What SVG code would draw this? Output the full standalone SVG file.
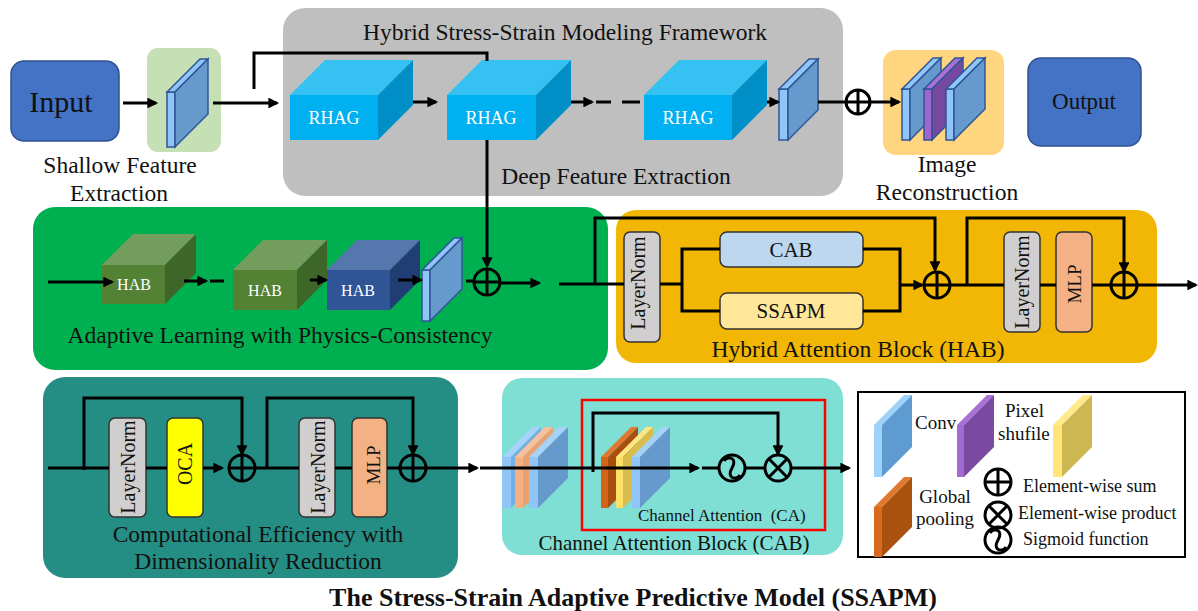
<svg xmlns="http://www.w3.org/2000/svg" width="1198" height="611" viewBox="0 0 1198 611">
<defs>
<marker id="ah" viewBox="0 0 10 10" refX="8" refY="5" markerWidth="4" markerHeight="3.6" orient="auto" markerUnits="strokeWidth"><path d="M0,0 L10,5 L0,10 z" fill="#000"/></marker>
<style>
text{font-family:"Liberation Serif","Times New Roman",serif;fill:#111}
.c{stroke:#000;stroke-width:3;fill:none}
.a{stroke:#000;stroke-width:3;fill:none;marker-end:url(#ah)}
.sym{stroke:#000;stroke-width:3;fill:none}
.sl{stroke:#2F5597;stroke-width:1.5}
.sf{fill:#8FC6F7}
.ss{fill:#6699CC}
.rf{fill:#00B0F0}.rt{fill:#35C2F3}.rs{fill:#008FC6}
.gf{fill:#548235}.gt{fill:#749C5C}.gs{fill:#3F6629}
.bf{fill:#2F5597}.bt{fill:#5676AE}.bs{fill:#213E74}
.box{stroke:#333;stroke-width:1.5}
.lbl{font-size:23.5px;text-anchor:middle}
.w{fill:#fff}
</style>
</defs>
<rect width="1198" height="611" fill="#fff"/>

<g id="panels">
<rect x="283" y="8" width="560" height="188" rx="22" fill="#BFBFBF"/>
<rect x="147" y="48" width="74" height="104" rx="11" fill="#C5E0B4"/>
<rect x="883" y="50" width="121" height="105" rx="13" fill="#FFD580"/>
<rect x="33" y="207" width="575" height="163" rx="22" fill="#00B050"/>
<rect x="616" y="210" width="541" height="153" rx="20" fill="#F2B705"/>
<rect x="43" y="377" width="415" height="201" rx="22" fill="#258E84"/>
<rect x="502" y="378" width="341" height="177" rx="20" fill="#7FDFD5"/>
<rect x="858" y="392" width="327" height="165" fill="#fff" stroke="#000" stroke-width="2"/>
</g>

<g id="input">
<rect x="11" y="61" width="108" height="80" rx="13" fill="#4472C4" stroke="#2F528F" stroke-width="1.5"/>
<text x="61" y="112" font-size="30" text-anchor="middle">Input</text>
</g>

<g id="shallow">
<rect class="sf sl" x="167" y="92" width="8" height="55"/>
<polygon class="sf sl" points="167,92 200,59 208,59 175,92"/>
<polygon class="ss sl" points="175,92 208,59 208,114 175,147"/>
<text class="lbl" x="120" y="173">Shallow Feature</text>
<text class="lbl" x="119" y="201">Extraction</text>
</g>

<g id="deep-title">
<text class="lbl" x="565" y="40">Hybrid Stress-Strain Modeling Framework</text>
<text class="lbl" x="616" y="184">Deep Feature Extraction</text>
</g>

<g id="rhag1">
<rect class="rf" x="290" y="95" width="88" height="45"/>
<polygon class="rt" points="290,95 325,60 413,60 378,95"/>
<polygon class="rs" points="378,95 413,60 413,105 378,140"/>
<text x="334" y="124" font-size="18" text-anchor="middle" class="w">RHAG</text>
</g>
<g id="rhag2">
<rect class="rf" x="447" y="95" width="89" height="45"/>
<polygon class="rt" points="447,95 482,60 571,60 536,95"/>
<polygon class="rs" points="536,95 571,60 571,105 536,140"/>
<text x="491" y="124" font-size="18" text-anchor="middle" class="w">RHAG</text>
</g>
<g id="rhag3">
<rect class="rf" x="644" y="95" width="88" height="45"/>
<polygon class="rt" points="644,95 679,60 767,60 732,95"/>
<polygon class="rs" points="732,95 767,60 767,105 732,140"/>
<text x="688" y="124" font-size="18" text-anchor="middle" class="w">RHAG</text>
</g>
<g id="deep-conv">
<rect class="sf sl" x="779" y="89" width="9" height="51"/>
<polygon class="sf sl" points="779,89 809,59 818,59 788,89"/>
<polygon class="ss sl" points="788,89 818,59 818,110 788,140"/>
</g>

<g id="reconstruction">
<rect class="sf sl" x="902" y="89" width="8" height="51"/>
<polygon class="sf sl" points="902,89 933,58 941,58 910,89"/>
<polygon class="ss sl" points="910,89 941,58 941,109 910,140"/>
<rect x="924" y="89" width="8" height="51" fill="#A065D0" stroke="#2F5597" stroke-width="1.5"/>
<polygon points="924,89 955,58 963,58 932,89" fill="#A86FD6" stroke="#2F5597" stroke-width="1.5"/>
<polygon points="932,89 963,58 963,109 932,140" fill="#7748A0" stroke="#2F5597" stroke-width="1.5"/>
<rect class="sf sl" x="946" y="89" width="8" height="51"/>
<polygon class="sf sl" points="946,89 977,58 985,58 954,89"/>
<polygon class="ss sl" points="954,89 985,58 985,109 954,140"/>
<text class="lbl" x="947" y="172">Image</text>
<text class="lbl" x="947" y="200">Reconstruction</text>
</g>

<g id="output">
<rect x="1028" y="58" width="113" height="88" rx="13" fill="#4472C4" stroke="#2F528F" stroke-width="1.5"/>
<text x="1084" y="109" font-size="23" text-anchor="middle">Output</text>
</g>

<g id="hab1">
<rect class="gf" x="102" y="265" width="63" height="39"/>
<polygon class="gt" points="102,265 133,234 196,234 165,265"/>
<polygon class="gs" points="165,265 196,234 196,273 165,304"/>
<text x="134" y="290" font-size="16" text-anchor="middle" class="w">HAB</text>
</g>
<g id="hab2">
<rect class="gf" x="233" y="270" width="64" height="40"/>
<polygon class="gt" points="233,270 263,240 327,240 297,270"/>
<polygon class="gs" points="297,270 327,240 327,280 297,310"/>
<text x="265" y="296" font-size="16" text-anchor="middle" class="w">HAB</text>
</g>
<g id="hab3">
<rect class="bf" x="327" y="270" width="63" height="40"/>
<polygon class="bt" points="327,270 357,240 420,240 390,270"/>
<polygon class="bs" points="390,270 420,240 420,280 390,310"/>
<text x="358" y="296" font-size="16" text-anchor="middle" class="w">HAB</text>
</g>
<g id="green-conv">
<rect class="sf sl" x="422" y="270" width="8" height="51"/>
<polygon class="sf sl" points="422,270 454,238 462,238 430,270"/>
<polygon class="ss sl" points="430,270 462,238 462,289 430,321"/>
</g>
<g id="green-label">
<text class="lbl" x="280" y="343">Adaptive Learning with Physics-Consistency</text>
</g>

<g id="hab-block">
<rect class="box" x="624" y="232" width="36" height="110" rx="6" fill="#D0CECE"/>
<text transform="translate(645,283) rotate(-90)" font-size="20" text-anchor="middle">LayerNorm</text>
<rect class="box" x="720" y="232" width="143" height="35" rx="7" fill="#BDD7EE"/>
<text x="791" y="257" font-size="21" text-anchor="middle">CAB</text>
<rect class="box" x="720" y="293" width="143" height="36" rx="7" fill="#FFE699"/>
<text x="791" y="318" font-size="21" text-anchor="middle">SSAPM</text>
<rect class="box" x="1004" y="232" width="36" height="100" rx="6" fill="#D0CECE"/>
<text transform="translate(1029,282) rotate(-90)" font-size="20" text-anchor="middle">LayerNorm</text>
<rect class="box" x="1056" y="232" width="36" height="100" rx="6" fill="#F4B183"/>
<text transform="translate(1081,284) rotate(-90)" font-size="19" text-anchor="middle">MLP</text>
<text class="lbl" x="858" y="357">Hybrid Attention Block (HAB)</text>
</g>

<g id="efficiency-block">
<rect class="box" x="109" y="418" width="37" height="99" rx="6" fill="#D0CECE"/>
<text transform="translate(135,467) rotate(-90)" font-size="20" text-anchor="middle">LayerNorm</text>
<rect class="box" x="167" y="418" width="36" height="99" rx="6" fill="#FFFF00"/>
<text transform="translate(192,464) rotate(-90)" font-size="20" text-anchor="middle">OCA</text>
<rect class="box" x="299" y="418" width="36" height="99" rx="6" fill="#D0CECE"/>
<text transform="translate(325,467) rotate(-90)" font-size="20" text-anchor="middle">LayerNorm</text>
<rect class="box" x="352" y="418" width="35" height="99" rx="6" fill="#F4B183"/>
<text transform="translate(380,465) rotate(-90)" font-size="19" text-anchor="middle">MLP</text>
<text class="lbl" x="258" y="542">Computational Efficiency with</text>
<text class="lbl" x="258" y="569">Dimensionality Reduction</text>
</g>

<g id="cab-block">
<rect x="502" y="457" width="9" height="51" fill="#8FC6F7"/>
<polygon points="502,457 532,427 541,427 511,457" fill="#A4D2F9"/>
<polygon points="511,457 541,427 541,478 511,508" fill="#74AEE3"/>
<rect x="515" y="457" width="8" height="51" fill="#F4B183"/>
<polygon points="515,457 545,427 553,427 523,457" fill="#F7C29B"/>
<polygon points="523,457 553,427 553,478 523,508" fill="#E8A272"/>
<rect x="529" y="457" width="9" height="51" fill="#8FC6F7"/>
<polygon points="529,457 559,427 568,427 538,457" fill="#A4D2F9"/>
<polygon points="538,457 568,427 568,478 538,508" fill="#6699CC"/>
<rect x="582" y="400" width="243" height="130" fill="none" stroke="#FF0000" stroke-width="2.5"/>
<rect x="601" y="457" width="7" height="51" fill="#D2651A"/>
<polygon points="601,457 631,427 638,427 608,457" fill="#E07A30"/>
<polygon points="608,457 638,427 638,478 608,508" fill="#A84E0E"/>
<rect x="616" y="457" width="7" height="51" fill="#FFE066"/>
<polygon points="616,457 646,427 653,427 623,457" fill="#FFE680"/>
<polygon points="623,457 653,427 653,478 623,508" fill="#D6BD4E"/>
<rect x="632" y="457" width="8" height="51" fill="#8FC6F7"/>
<polygon points="632,457 662,427 670,427 640,457" fill="#A4D2F9"/>
<polygon points="640,457 670,427 670,478 640,508" fill="#6699CC"/>
<text x="638" y="521" font-size="17" xml:space="preserve">Channel Attention  (CA)</text>
<text x="674" y="550" font-size="21" text-anchor="middle">Channel Attention Block (CAB)</text>
</g>

<g id="legend">
<rect x="874" y="425" width="8" height="52" fill="#9DD3FA"/>
<polygon points="874,425 904,395 912,395 882,425" fill="#9DD3FA"/>
<polygon points="882,425 912,395 912,447 882,477" fill="#5E9BD0"/>
<text x="915" y="429" font-size="19">Conv</text>
<rect x="957" y="425" width="7" height="52" fill="#A36BD1"/>
<polygon points="957,425 987,395 994,395 964,425" fill="#A970D6"/>
<polygon points="964,425 994,395 994,447 964,477" fill="#7A4AA0"/>
<text x="1005" y="417" font-size="19">Pixel</text>
<text x="998" y="440" font-size="19">shufile</text>
<rect x="1053" y="425" width="9" height="52" fill="#FFE57A"/>
<polygon points="1053,425 1083,395 1092,395 1062,425" fill="#FFE98A"/>
<polygon points="1062,425 1092,395 1092,447 1062,477" fill="#CDB752"/>
<rect x="874" y="507" width="8" height="50" fill="#D9691C"/>
<polygon points="874,507 904,477 912,477 882,507" fill="#E07A30"/>
<polygon points="882,507 912,477 912,527 882,557" fill="#A9510F"/>
<text x="945" y="503" font-size="19" text-anchor="middle">Global</text>
<text x="945" y="525" font-size="19" text-anchor="middle">pooling</text>
<circle class="sym" cx="998" cy="482" r="13"/>
<path class="sym" d="M985,482 H1011 M998,469 V495"/>
<circle class="sym" cx="998" cy="515" r="13"/>
<path class="sym" d="M988.8,505.8 L1007.2,524.2 M1007.2,505.8 L988.8,524.2"/>
<circle class="sym" cx="998" cy="540" r="13"/>
<path class="sym" d="M990,533 C994,527 1004,530 998,540 C992,550 1002,553 1006,547"/>
<text x="1023" y="492" font-size="18">Element-wise sum</text>
<text x="1018" y="519" font-size="18">Element-wise product</text>
<text x="1023" y="545" font-size="18">Sigmoid function</text>
</g>

<g id="connectors">
<path class="a" d="M123,103 H156"/>
<path class="a" d="M213,103 H277"/>
<path class="c" d="M254,89 V53 H487 V61"/>
<path class="a" d="M487,140 V266"/>
<path class="a" d="M413,102 H436"/>
<path class="a" d="M571,102 H592"/>
<path class="c" d="M596,102 H611 M622,102 H640"/>
<path class="a" d="M767,102 H778"/>
<path class="c" d="M818,102 H846"/>
<circle class="sym" cx="858" cy="102" r="12"/>
<path class="sym" d="M846,102 H870 M858,90 V114"/>
<path class="a" d="M870,102 H899"/>

<path class="a" d="M48,282 H112"/>
<path class="a" d="M184,281 H206"/>
<path class="c" d="M210,281 H224"/>
<path class="a" d="M310,280 H326"/>
<path class="a" d="M398,280 H421"/>
<path class="c" d="M466,281 H474"/>
<circle class="sym" cx="487" cy="282" r="13"/>
<path class="sym" d="M474,282 H500 M487,269 V295"/>
<path class="a" d="M500,283 H539"/>
<path class="c" d="M559,284 H624"/>
<path class="a" d="M595,284 V218 H935 V270"/>
<path class="c" d="M660,284 H682 M720,249 H682 V311 H720 M863,249 H900 V311 H863"/>
<path class="a" d="M900,285 H922"/>
<circle class="sym" cx="937" cy="285" r="13"/>
<path class="sym" d="M924,285 H950 M937,272 V298"/>
<path class="c" d="M950,285 H1004 M1040,285 H1056 M1092,285 H1111"/>
<path class="a" d="M967,285 V218 H1124 V271"/>
<circle class="sym" cx="1124" cy="285" r="13"/>
<path class="sym" d="M1111,285 H1137 M1124,272 V298"/>
<path class="a" d="M1137,285 H1196"/>

<path class="c" d="M48,468 H109 M146,468 H167"/>
<path class="a" d="M84,470 V398 H242 V454"/>
<path class="a" d="M203,468 H222"/>
<circle class="sym" cx="242" cy="468" r="13"/>
<path class="sym" d="M229,468 H255 M242,455 V481"/>
<path class="c" d="M255,468 H299 M335,468 H352 M387,468 H400"/>
<path class="a" d="M267,468 V398 H413 V454"/>
<circle class="sym" cx="413" cy="468" r="13"/>
<path class="sym" d="M400,468 H426 M413,455 V481"/>
<path class="a" d="M426,468 H477"/>

<path class="a" d="M480,468 H698"/>
<path class="c" d="M702,468 H719"/>
<path class="a" d="M593,472 V413 H778 V454"/>
<circle class="sym" cx="732" cy="468" r="13"/>
<path class="sym" d="M724,461 C728,455 738,458 732,468 C726,478 736,481 740,475"/>
<path class="c" d="M745,468 H765"/>
<circle class="sym" cx="778" cy="468" r="13"/>
<path class="sym" d="M768.8,458.8 L787.2,477.2 M787.2,458.8 L768.8,477.2"/>
<path class="a" d="M791,468 H849"/>
</g>

<g id="title">
<text x="633" y="606" font-size="26" font-weight="bold" text-anchor="middle">The Stress-Strain Adaptive Predictive Model (SSAPM)</text>
</g>
</svg>
